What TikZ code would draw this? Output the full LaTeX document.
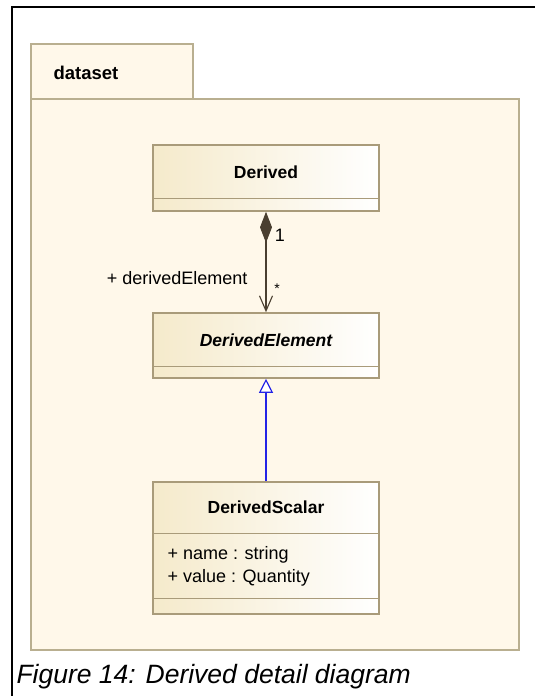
\documentclass[tikz,border=0pt]{standalone}
\usepackage{fontspec}
\setmainfont{Liberation Sans}
\usetikzlibrary{arrows.meta,positioning}
\definecolor{pkgfill}{HTML}{FFF8EA}
\definecolor{pkgline}{HTML}{B9AF90}
\definecolor{clsleft}{HTML}{F5EACB}
\definecolor{clsline}{HTML}{A99B7A}
\definecolor{linkbrown}{HTML}{4A3F30}
\definecolor{genblue}{HTML}{2424E6}
\tikzset{
    classbox/.style = {rectangle, draw = clsline, line width = 1.6pt, left color = clsleft, right color = white, minimum width = 226pt, inner sep = 0pt},
    classname/.style = {font = \bfseries\fontsize{17.5}{20}\selectfont},
    attr/.style = {anchor = west, font = \fontsize{18}{21}\selectfont},
    lbl/.style = {font = \fontsize{18}{21}\selectfont},
    compline/.style = {draw = clsline, line width = 1.2pt}
}
\begin{document}
\begin{tikzpicture}[x = 1pt, y = -1pt]
                \useasboundingbox (0, 0) rectangle (535, 696);
                \draw[line width = 1.2pt] (12, 696) -- (12, 7) -- (535, 7);
                \draw[draw = pkgline, fill = pkgfill, line width = 1.5pt] (31, 44) rectangle (193, 99);
                \draw[draw = pkgline, fill = pkgfill, line width = 1.5pt] (31, 99) rectangle (519, 650);
                \node[anchor = west, font = \bfseries\fontsize{18.5}{21}\selectfont] (pkgname) at (50, 73) {dataset};
                \node[classbox, minimum height = 66pt] (derived) at (266, 178) {};
                \node[classname] (derivedname) at (266, 172) {Derived};
                \draw[compline] ([yshift = -54pt]derived.north west) -- ([yshift = -54pt]derived.north east);
                \node[classbox, minimum height = 65pt] (delem) at (266, 345.5) {};
                \node[classname, font = \bfseries\itshape\fontsize{17.5}{20}\selectfont] (delemname) at (266, 340) {DerivedElement};
                \draw[compline] ([yshift = -54pt]delem.north west) -- ([yshift = -54pt]delem.north east);
                \node[classbox, minimum height = 132pt] (dscalar) at (266, 548) {};
                \node[classname] (dscalarname) at (266, 507) {DerivedScalar};
                \draw[compline] ([yshift = -52pt]dscalar.north west) -- ([yshift = -52pt]dscalar.north east);
                \node[attr] (attrname) at (164, 555) {+ name : string};
                \node[attr] (attrvalue) at (164, 578) {+ value : Quantity};
                \draw[compline] ([yshift = 16pt]dscalar.south west) -- ([yshift = 16pt]dscalar.south east);
                \draw[linkbrown, line width = 1.1pt, {Diamond[length = 31pt, width = 12pt, fill = linkbrown]}-{Straight Barb[length = 15pt, width = 13pt]}] (derived.south) -- (delem.north);
                \node[lbl] (multone) at (280, 235) {1};
                \node[font = \fontsize{14}{16}\selectfont] (multmany) at (277, 289) {*};
                \node[lbl, anchor = east] (rolename) at (251, 278) {+ derivedElement};
                \draw[genblue, line width = 1.2pt, -{Triangle[open, length = 14pt, width = 14pt, fill = white]}] (dscalar.north) -- (delem.south);
                \node[anchor = base west, font = \itshape\fontsize{26.5}{30}\selectfont] (caption) at (13, 683) {Figure 14: Derived detail diagram};
            \end{tikzpicture}
\end{document}
